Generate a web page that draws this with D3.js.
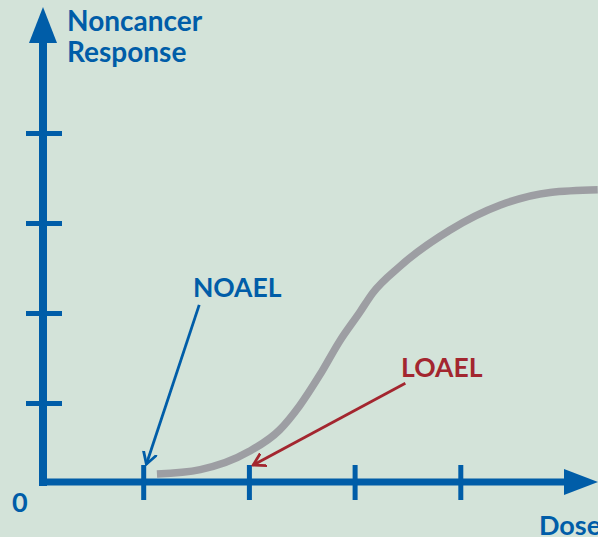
<!DOCTYPE html>
<html>
<head>
<meta charset="utf-8">
<script src="https://cdn.jsdelivr.net/npm/d3@7"></script>
<style>
  html, body { margin: 0; padding: 0; background: #d3e3d9; overflow: hidden; }
  text { font-family: Lato, "Open Sans", sans-serif; font-weight: 700; }
</style>
</head>
<body>
<div id="chart"></div>
<script>
// Dose-response curve (dose units, response units)
const doses     = [1.13, 1.54, 2.00, 2.29, 2.48, 2.67, 2.86, 3.05, 3.17, 3.43, 3.90, 4.38, 4.85, 5.30];
const responses = [0.21, 0.26, 0.46, 0.70, 0.97, 1.31, 1.69, 2.01, 2.22, 2.52, 2.92, 3.20, 3.34, 3.37];

const doseTicks = [1, 2, 3, 4];
const responseTicks = [1, 2, 3, 4];

// Annotations: label, label anchor, arrow start, arrow tip (data units)
const noael = { label: "NOAEL", text: [1.47, 2.18], from: [1.53, 2.09], to: [1.03, 0.32] };
const loael = { label: "LOAEL", text: [3.44, 1.29], from: [3.48, 1.22], to: [2.04, 0.31] };

const width = 598, height = 537;
const blue = "#005da8", red = "#a3262f", gray = "#9d9ea3";

const x = d3.scaleLinear().domain([0, 5]).range([37.5, 566]);
const y = d3.scaleLinear().domain([0, 4]).range([493, 133]);

const svg = d3.select("#chart").append("svg")
  .attr("width", width)
  .attr("height", height);

const defs = svg.append("defs");
// open chevron arrowheads for the callouts
[["noael", blue], ["loael", red]].forEach(([id, c]) => {
  defs.append("marker")
    .attr("id", "head-" + id)
    .attr("viewBox", "-12 -8 14 16")
    .attr("refX", 0).attr("refY", 0)
    .attr("markerWidth", 14).attr("markerHeight", 16)
    .attr("markerUnits", "userSpaceOnUse")
    .attr("orient", "auto")
    .append("path")
    .attr("d", "M-12,-7L0,0L-12,7")
    .attr("fill", "none")
    .attr("stroke", c)
    .attr("stroke-width", 2.8);
});

// axis lines
const axisX = 43, axisY = 482;
svg.append("line")
  .attr("x1", axisX).attr("x2", axisX)
  .attr("y1", axisY + 4).attr("y2", 40)
  .attr("stroke", blue).attr("stroke-width", 8);
svg.append("path")
  .attr("d", `M${axisX - 14},43L${axisX},7L${axisX + 14},43Z`)
  .attr("fill", blue);

svg.append("line")
  .attr("x1", axisX - 4).attr("x2", 568)
  .attr("y1", axisY).attr("y2", axisY)
  .attr("stroke", blue).attr("stroke-width", 7);
svg.append("path")
  .attr("d", `M564,${axisY - 13}L598,${axisY}L564,${axisY + 13}Z`)
  .attr("fill", blue);

// ticks through the library axes
svg.append("g")
  .attr("transform", `translate(0,${axisY - 17})`)
  .call(d3.axisBottom(x).tickValues(doseTicks).tickSize(35).tickFormat(""))
  .call(g => g.select(".domain").remove())
  .call(g => g.selectAll(".tick line").attr("stroke", blue).attr("stroke-width", 5));

svg.append("g")
  .attr("transform", `translate(${axisX - 17},0)`)
  .call(d3.axisRight(y).tickValues(responseTicks).tickSize(36).tickFormat(""))
  .call(g => g.select(".domain").remove())
  .call(g => g.selectAll(".tick line").attr("stroke", blue).attr("stroke-width", 5));

// curve
const pts = doses.map((d, i) => [d, responses[i]]);
svg.append("path")
  .datum(pts)
  .attr("fill", "none")
  .attr("stroke", gray)
  .attr("stroke-width", 7.5)
  .attr("d", d3.line().x(d => x(d[0])).y(d => y(d[1])).curve(d3.curveMonotoneX));

// callouts
[[noael, blue, "noael"], [loael, red, "loael"]].forEach(([a, c, id]) => {
  svg.append("line")
    .attr("x1", x(a.from[0])).attr("y1", y(a.from[1]))
    .attr("x2", x(a.to[0])).attr("y2", y(a.to[1]))
    .attr("stroke", c).attr("stroke-width", 2.8)
    .attr("marker-end", `url(#head-${id})`);
  svg.append("text")
    .attr("x", x(a.text[0])).attr("y", y(a.text[1]))
    .attr("fill", c)
    .attr("font-size", 26.5)
    .text(a.label);
});

// axis titles
svg.append("text")
  .attr("x", 67).attr("y", 31)
  .attr("fill", blue).attr("font-size", 28)
  .call(t => t.append("tspan").attr("x", 67).text("Noncancer"))
  .call(t => t.append("tspan").attr("x", 67).attr("dy", 31).text("Response"));

svg.append("text")
  .attr("x", 12).attr("y", 512)
  .attr("fill", blue).attr("font-size", 27)
  .text("0");

svg.append("text")
  .attr("x", 539).attr("y", 535)
  .attr("fill", blue).attr("font-size", 27)
  .text("Dose");
</script>
</body>
</html>
